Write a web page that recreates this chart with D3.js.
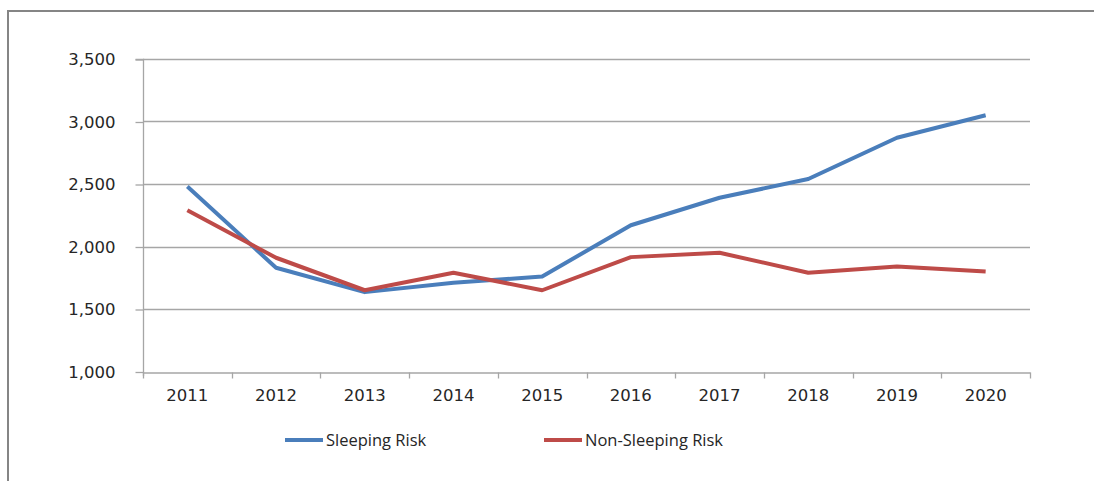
<!DOCTYPE html>
<html>
<head>
<meta charset="utf-8">
<script src="https://cdn.jsdelivr.net/npm/d3@7"></script>
<style>
  body { margin: 0; background: white; }
  svg { display: block; }
</style>
</head>
<body>
<div id="chart"></div>
<script>
// chart data
const years = ['2011', '2012', '2013', '2014', '2015', '2016', '2017', '2018', '2019', '2020'];
const sleepingRisk = [2480, 1830, 1635, 1710, 1760, 2170, 2390, 2540, 2870, 3050];
const nonSleepingRisk = [2290, 1910, 1650, 1790, 1650, 1915, 1950, 1790, 1840, 1800];
const yTicks = [1000, 1500, 2000, 2500, 3000, 3500];
const seriesNames = ['Sleeping Risk', 'Non-Sleeping Risk'];
const seriesColors = ['#4a7ebb', '#be4b48'];

let width = 1094,
	height = 481,
	margin = { top: 59, right: 64, bottom: 109, left: 143 };

let svg = d3.select('#chart')
	.append('svg')
	.attr('width', width)
	.attr('height', height)
	.style('background', 'white');

// outer frame of the chart object
svg.append('rect')
	.attr('x', 8)
	.attr('y', 11)
	.attr('width', width + 20)
	.attr('height', height + 20)
	.attr('fill', 'none')
	.attr('stroke', '#858585')
	.attr('stroke-width', 2);

let x = d3.scaleBand()
	.domain(years)
	.range([margin.left, width - margin.right]);

let y = d3.scaleLinear()
	.domain([1000, 3500])
	.range([height - margin.bottom - 0.5, margin.top]);

// horizontal gridlines
svg.append('g')
	.selectAll('line')
	.data(yTicks.slice(1))
	.enter()
	.append('line')
	.attr('x1', margin.left)
	.attr('x2', width - margin.right)
	.attr('y1', d => Math.round(y(d)) + 0.5)
	.attr('y2', d => Math.round(y(d)) + 0.5)
	.attr('stroke', '#a6a6a6')
	.attr('stroke-width', 1.3);

// y axis
let yAxis = svg.append('g')
	.attr('transform', 'translate(' + (margin.left + 0.5) + ',0.5)')
	.call(d3.axisLeft(y)
		.tickValues(yTicks)
		.tickSize(8)
		.tickPadding(20)
		.tickFormat(d3.format(',')));

// x axis
let xAxis = svg.append('g')
	.attr('transform', 'translate(0,' + (Math.round(y(1000)) + 0.5) + ')')
	.call(d3.axisBottom(x).tickSize(0).tickPadding(17));

// category boundary ticks
xAxis.selectAll('.bound')
	.data(years.map(d => x(d)).concat([width - margin.right]))
	.enter()
	.append('line')
	.attr('class', 'bound')
	.attr('x1', d => Math.round(d) + 0.5)
	.attr('x2', d => Math.round(d) + 0.5)
	.attr('y1', 0)
	.attr('y2', 6)
	.attr('stroke', '#a6a6a6')
	.attr('stroke-width', 1.3);

[yAxis, xAxis].forEach(function (a) {
	a.select('.domain').attr('stroke', '#a6a6a6').attr('stroke-width', 1.3);
	a.selectAll('.tick line').attr('stroke', '#a6a6a6').attr('stroke-width', 1.3);
	a.selectAll('text')
		.style('font-family', 'DejaVu Sans, sans-serif')
		.style('font-size', '16.5px')
		.style('fill', '#262626');
});
yAxis.select('.domain').attr('d', 'M-8,' + y(3500) + 'H0V' + (y(1000) + 4));

// lines
let line = d3.line()
	.x((d, i) => x(years[i]) + x.bandwidth() / 2)
	.y(d => y(d));

[sleepingRisk, nonSleepingRisk].forEach(function (vals, k) {
	svg.append('path')
		.datum(vals)
		.attr('d', line)
		.attr('fill', 'none')
		.attr('stroke', seriesColors[k])
		.attr('stroke-width', 4)
		.attr('stroke-linejoin', 'round');
});

// legend
let legendX = [285, 544];
let legend = svg.selectAll('.legend')
	.data(seriesNames)
	.enter()
	.append('g')
	.attr('class', 'legend')
	.attr('transform', (d, i) => 'translate(' + legendX[i] + ',440)');

legend.append('line')
	.attr('x1', 0)
	.attr('x2', 38)
	.attr('stroke', (d, i) => seriesColors[i])
	.attr('stroke-width', 4);

legend.append('text')
	.attr('x', 41)
	.attr('dy', '0.35em')
	.style('font-family', 'Open Sans, sans-serif')
	.style('font-size', '16.5px')
	.style('fill', '#262626')
	.text(d => d);
</script>
</body>
</html>
